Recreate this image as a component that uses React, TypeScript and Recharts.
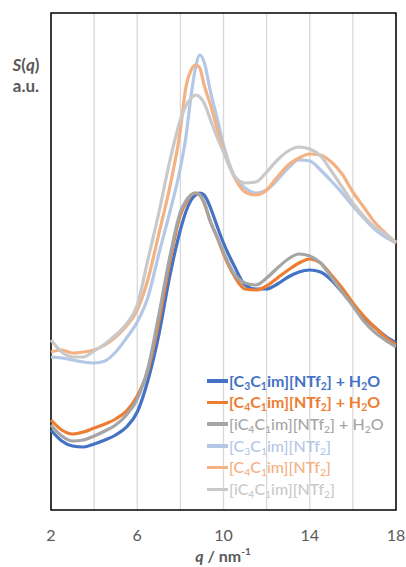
import { LineChart, Line, XAxis, YAxis, CartesianGrid, ReferenceArea, Legend, Label } from "recharts";

// scattering vector q (nm^-1)
const qValues = [2, 2.5, 3, 3.5, 4, 4.5, 5, 5.5, 6, 6.5, 7, 7.5, 8, 8.25, 8.5, 8.7, 8.9, 9.1, 9.4, 9.7, 10, 10.5, 11, 11.5, 12, 12.5, 13, 13.5, 14, 14.5, 15, 15.5, 16, 16.5, 17, 17.5, 18];

// S(q), arbitrary units (offset stacked)
const c3Water = [0.8, 0.69, 0.64, 0.63, 0.66, 0.7, 0.75, 0.83, 0.98, 1.3, 1.75, 2.33, 2.8, 2.98, 3.1, 3.15, 3.17, 3.15, 3.02, 2.84, 2.67, 2.44, 2.25, 2.21, 2.21, 2.26, 2.33, 2.38, 2.4, 2.38, 2.3, 2.18, 2.06, 1.93, 1.83, 1.74, 1.67];
const c4Water = [0.9, 0.8, 0.76, 0.78, 0.82, 0.86, 0.91, 0.99, 1.14, 1.4, 1.88, 2.47, 2.95, 3.07, 3.15, 3.17, 3.15, 3.07, 2.88, 2.73, 2.56, 2.34, 2.21, 2.2, 2.24, 2.32, 2.4, 2.47, 2.51, 2.47, 2.35, 2.22, 2.07, 1.94, 1.83, 1.73, 1.65];
const ic4Water = [0.85, 0.74, 0.69, 0.7, 0.74, 0.79, 0.85, 0.95, 1.11, 1.42, 1.95, 2.52, 2.98, 3.09, 3.15, 3.17, 3.15, 3.08, 2.88, 2.73, 2.58, 2.36, 2.27, 2.25, 2.32, 2.42, 2.51, 2.56, 2.54, 2.47, 2.33, 2.18, 2.04, 1.89, 1.78, 1.7, 1.63];
const c3Neat = [1.53, 1.52, 1.5, 1.48, 1.47, 1.49, 1.58, 1.72, 1.88, 2.13, 2.56, 2.97, 3.42, 3.72, 4.15, 4.42, 4.55, 4.48, 4.18, 3.92, 3.65, 3.34, 3.22, 3.17, 3.2, 3.3, 3.42, 3.5, 3.49, 3.4, 3.29, 3.17, 3.04, 2.92, 2.81, 2.73, 2.67];
const c4Neat = [1.58, 1.6, 1.57, 1.58, 1.6, 1.65, 1.73, 1.84, 2.0, 2.31, 2.76, 3.22, 3.8, 4.22, 4.4, 4.45, 4.42, 4.25, 4.05, 3.82, 3.6, 3.33, 3.18, 3.15, 3.2, 3.33, 3.45, 3.52, 3.56, 3.55, 3.48, 3.36, 3.18, 3.03, 2.88, 2.77, 2.67];
const ic4Neat = [1.7, 1.58, 1.53, 1.53, 1.59, 1.66, 1.75, 1.86, 2.05, 2.51, 2.97, 3.48, 3.9, 4.04, 4.12, 4.15, 4.13, 4.07, 3.9, 3.73, 3.58, 3.34, 3.27, 3.28, 3.38, 3.5, 3.59, 3.63, 3.61, 3.54, 3.39, 3.23, 3.07, 2.94, 2.83, 2.76, 2.68];

const xTicks = [2, 4, 6, 8, 10, 12, 14, 16, 18];

const FONT = "Lato, 'Open Sans', sans-serif";
const AXIS_GREY = "#595959";

// label markup: "_x" is a subscript character
const series = [
  { key: "c3Water", values: c3Water, color: "#4472C4", label: "[C_3C_1im][NTf_2] + H_2O", bold: true },
  { key: "c4Water", values: c4Water, color: "#ED7D31", label: "[C_4C_1im][NTf_2] + H_2O", bold: true },
  { key: "ic4Water", values: ic4Water, color: "#A5A5A5", label: "[iC_4C_1im][NTf_2] + H_2O", bold: false },
  { key: "c3Neat", values: c3Neat, color: "#B4C7E7", label: "[C_3C_1im][NTf_2]", bold: false },
  { key: "c4Neat", values: c4Neat, color: "#F4B183", label: "[C_4C_1im][NTf_2]", bold: false },
  { key: "ic4Neat", values: ic4Neat, color: "#C9C9C9", label: "[iC_4C_1im][NTf_2]", bold: false },
];

const data = qValues.map((q, i) => {
  const row: Record<string, number> = { q };
  series.forEach((s) => {
    row[s.key] = s.values[i];
  });
  return row;
});

function Formula({ text }: { text: string }) {
  const parts = text.split(/(_.)/);
  return (
    <>
      {parts.map((p, i) =>
        p.startsWith("_") ? (
          <sub key={i} style={{ fontSize: "0.65em", verticalAlign: "-0.25em" }}>
            {p.slice(1)}
          </sub>
        ) : (
          <span key={i}>{p}</span>
        )
      )}
    </>
  );
}

function LegendList() {
  return (
    <div style={{ fontFamily: FONT, fontSize: 16 }}>
      {series.map((s) => (
        <div key={s.key} style={{ display: "flex", alignItems: "center", height: 21.7, whiteSpace: "nowrap" }}>
          <span style={{ display: "inline-block", width: 21, height: 3.5, background: s.color, marginRight: 1 }} />
          <span style={{ color: s.color, fontWeight: s.bold ? 700 : 500 }}>
            <Formula text={s.label} />
          </span>
        </div>
      ))}
    </div>
  );
}

function YTitle() {
  return (
    <g fontFamily={FONT} fontWeight={700} fontSize={17} fill={AXIS_GREY} textAnchor="middle">
      <text x={26} y={71}>
        <tspan fontStyle="italic">S</tspan>(<tspan fontStyle="italic">q</tspan>)
      </text>
      <text x={26} y={92}>a.u.</text>
    </g>
  );
}

function XTitle() {
  return (
    <text x={223} y={562} textAnchor="middle" fontFamily={FONT} fontWeight={700} fontSize={16} fill={AXIS_GREY}>
      <tspan fontStyle="italic">q</tspan> / nm
      <tspan fontSize={10} dy={-7}>-1</tspan>
    </text>
  );
}

export default function App() {
  return (
    <div style={{ width: 406, height: 567, background: "#fff" }}>
      <style>{`body{margin:0}`}</style>
      <LineChart width={406} height={567} data={data} margin={{ top: 13, right: 10, left: 0, bottom: 0 }}>
        <CartesianGrid horizontal={false} stroke="#D9D9D9" strokeWidth={1.3} />
        <XAxis
          dataKey="q"
          type="number"
          domain={[2, 18]}
          ticks={xTicks}
          tickFormatter={(v: number) => ((v - 2) % 4 === 0 ? String(v) : "")}
          axisLine={false}
          tickLine={false}
          tickMargin={14}
          height={57}
          tick={{ fill: AXIS_GREY, fontSize: 16, fontFamily: FONT }}
        >
          <Label content={() => <XTitle />} />
        </XAxis>
        <YAxis type="number" domain={[0, 4.97]} width={51} tick={false} axisLine={false} tickLine={false}>
          <Label content={() => <YTitle />} />
        </YAxis>
        <ReferenceArea x1={2} x2={18} y1={0} y2={4.97} fill="none" stroke="#000" strokeWidth={1.5} ifOverflow="visible" />
        {series.map((s) => (
          <Line
            key={s.key}
            dataKey={s.key}
            type="monotone"
            stroke={s.color}
            strokeWidth={3.2}
            dot={false}
            activeDot={false}
            isAnimationActive={false}
          />
        ))}
        <Legend
          layout="vertical"
          align="center"
          verticalAlign="middle"
          wrapperStyle={{ left: 207, top: 370, width: "auto" }}
          content={() => <LegendList />}
        />
      </LineChart>
    </div>
  );
}
